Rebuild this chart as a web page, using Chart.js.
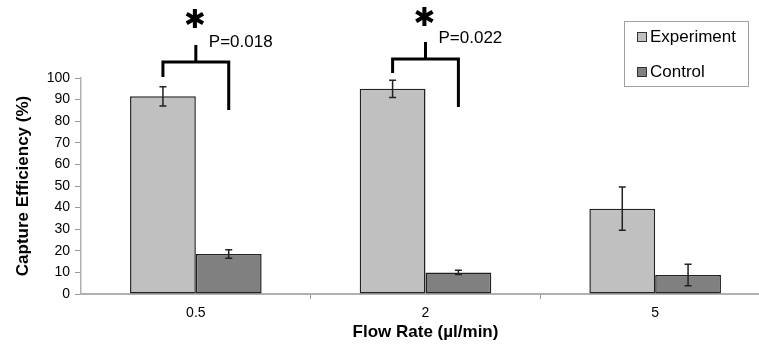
<!DOCTYPE html>
<html>
<head>
<meta charset="utf-8">
<script src="https://cdn.jsdelivr.net/npm/chart.js@4"></script>
<style>
  html, body { margin: 0; padding: 0; background: #fff; overflow: hidden; }
  #wrap { width: 780px; height: 349px; position: relative; }
</style>
</head>
<body>
<div id="wrap"><canvas id="c"></canvas></div>
<script>
// ---- data ----
const flowRates = ['0.5', '2', '5'];
const experiment = [91.5, 95, 39.5];
const experimentErr = [4.5, 4, 10];
const control = [18.5, 10, 8.8];
const controlErr = [2, 1, 5];
const yTicks = [0, 10, 20, 30, 40, 50, 60, 70, 80, 90, 100];

// significance brackets, in y-axis units (above the 100% max)
const sigGroups = [0, 1];
const sigLabels = ['P=0.018', 'P=0.022'];
const bracketLevel = [107.4, 108.8];
const leftLegEnd = [100.5, 102.3];
const rightLegEnd = [85.2, 86.6];
const stemTop = [115.3, 116.7];
const starLevel = [126.2, 127.2];
const labelLevel = [116.7, 118.5];

const FONT = 'Arial, "Liberation Sans", sans-serif';

const errorBars = {
  id: 'errorBars',
  afterDatasetsDraw(chart) {
    const { ctx, scales: { y } } = chart;
    const errs = [experimentErr, controlErr];
    ctx.save();
    ctx.strokeStyle = '#222';
    ctx.lineWidth = 1.5;
    chart.data.datasets.forEach((ds, di) => {
      chart.getDatasetMeta(di).data.forEach((bar, i) => {
        const v = ds.data[i], e = errs[di][i];
        const top = y.getPixelForValue(v + e), bot = y.getPixelForValue(v - e);
        ctx.beginPath();
        ctx.moveTo(bar.x, top); ctx.lineTo(bar.x, bot);
        ctx.moveTo(bar.x - 3.5, top); ctx.lineTo(bar.x + 3.5, top);
        ctx.moveTo(bar.x - 3.5, bot); ctx.lineTo(bar.x + 3.5, bot);
        ctx.stroke();
      });
    });
    ctx.restore();
  }
};

const brackets = {
  id: 'brackets',
  afterDatasetsDraw(chart) {
    const { ctx, scales: { y } } = chart;
    const expMeta = chart.getDatasetMeta(0).data;
    const ctlMeta = chart.getDatasetMeta(1).data;
    ctx.save();
    sigGroups.forEach((g, k) => {
      const xl = expMeta[g].x, xr = ctlMeta[g].x;
      const xm = (xl + xr) / 2;
      const yb = y.getPixelForValue(bracketLevel[k]);
      ctx.strokeStyle = '#000';
      ctx.lineWidth = 3;
      ctx.lineCap = 'butt';
      ctx.beginPath();
      ctx.moveTo(xl, y.getPixelForValue(leftLegEnd[k]));
      ctx.lineTo(xl, yb);
      ctx.lineTo(xr, yb);
      ctx.lineTo(xr, y.getPixelForValue(rightLegEnd[k]));
      ctx.moveTo(xm, yb);
      ctx.lineTo(xm, y.getPixelForValue(stemTop[k]));
      ctx.stroke();
      ctx.fillStyle = '#000';
      ctx.textAlign = 'center';
      ctx.textBaseline = 'middle';
      ctx.font = '26px "DejaVu Sans"';
      ctx.fillText('\u2731', xm - 1, y.getPixelForValue(starLevel[k]));
      ctx.textAlign = 'left';
      ctx.font = '17px ' + FONT;
      ctx.fillText(sigLabels[k], xm + 13, y.getPixelForValue(labelLevel[k]));
    });
    ctx.restore();
  }
};

const boxLegend = {
  id: 'boxLegend',
  afterDraw(chart) {
    const ctx = chart.ctx;
    const x0 = 624.5, y0 = 21.5, w = 124, h = 65;
    ctx.save();
    ctx.fillStyle = '#fff';
    ctx.fillRect(x0, y0, w, h);
    ctx.strokeStyle = '#a0a0a0';
    ctx.lineWidth = 1;
    ctx.strokeRect(x0, y0, w, h);
    ctx.font = '17px ' + FONT;
    ctx.textBaseline = 'middle';
    ctx.textAlign = 'left';
    chart.data.datasets.forEach((ds, i) => {
      const cy = 37 + i * 35;
      ctx.fillStyle = ds.backgroundColor;
      ctx.fillRect(637.5, cy - 4.5, 9, 9);
      ctx.strokeStyle = '#333';
      ctx.strokeRect(637.5, cy - 4.5, 9, 9);
      ctx.fillStyle = '#000';
      ctx.fillText(ds.label, 650, cy);
    });
    ctx.restore();
  }
};

new Chart(document.getElementById('c'), {
  type: 'bar',
  data: {
    labels: flowRates,
    datasets: [
      { label: 'Experiment', data: experiment, backgroundColor: '#c0c0c0', borderColor: '#222', borderWidth: 1.5, borderSkipped: false, categoryPercentage: 0.573, barPercentage: 1 },
      { label: 'Control', data: control, backgroundColor: '#808080', borderColor: '#222', borderWidth: 1.5, borderSkipped: false, categoryPercentage: 0.573, barPercentage: 1 }
    ]
  },
  options: {
    responsive: true,
    maintainAspectRatio: false,
    animation: false,
    layout: { padding: { top: 78, right: 10, left: 0, bottom: 0 } },
    plugins: { legend: { display: false }, tooltip: { enabled: false } },
    scales: {
      x: {
        grid: { drawOnChartArea: false, drawTicks: true, tickLength: 5, color: c => (c.index === 0 ? 'rgba(0,0,0,0)' : '#999'), offset: true },
        border: { color: '#b0b0b0', width: 2 },
        ticks: { color: '#000', font: { family: FONT, size: 14 }, padding: 6 },
        title: { display: true, text: 'Flow Rate (\u00b5l/min)', color: '#000', font: { family: FONT, size: 17, weight: 'bold' }, padding: { top: 4, bottom: 6 } },
        afterFit: s => { s.height = 55; }
      },
      y: {
        min: 0, max: 100,
        afterBuildTicks: s => { s.ticks = yTicks.map(v => ({ value: v })); },
        grid: { drawOnChartArea: false, drawTicks: true, tickLength: 6, color: '#999' },
        border: { color: '#b0b0b0', width: 1.5 },
        ticks: { color: '#000', font: { family: FONT, size: 14 }, padding: 5 },
        title: { display: true, text: 'Capture Efficiency (%)', color: '#000', font: { family: FONT, size: 17, weight: 'bold' }, padding: { top: 13, bottom: 0 } },
        afterFit: s => { s.width = 81; }
      }
    }
  },
  plugins: [errorBars, brackets, boxLegend]
});
</script>
</body>
</html>
